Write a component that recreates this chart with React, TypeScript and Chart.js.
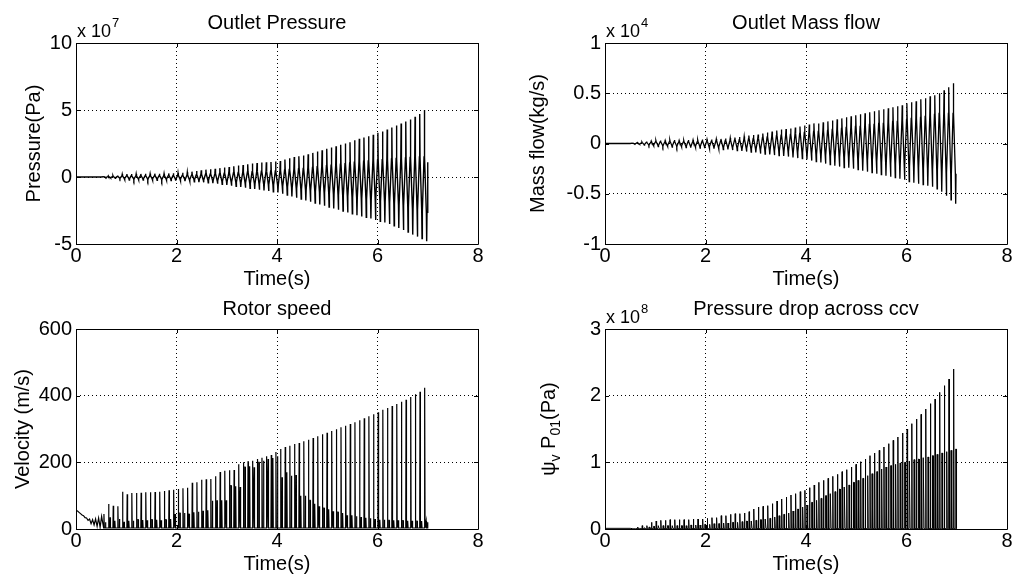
import React, { useEffect, useRef } from 'react';
import { Chart, registerables } from 'chart.js';

Chart.register(...registerables);

// ---------- data ----------
const TIME_TICKS = [0, 2, 4, 6, 8];
const CYCLE_START = 0.55; // s, first oscillation cycle
const CYCLE_PERIOD = 0.0925; // s

// Outlet Pressure (x 1e7 Pa)
const PRESSURE_YTICKS = [-5, 0, 5, 10];
const PRESSURE_LEAD_T = [0, 0.5];
const PRESSURE_LEAD_V = [0, 0];
const PRESSURE_UPPER = [
  0.05, 0.08, 0.1, 0.12, 0.2, 0.22, 0.22, 0.23, 0.23, 0.24,
  0.24, 0.25, 0.25, 0.25, 0.27, 0.28, 0.3, 0.32, 0.35, 0.4,
  0.45, 0.5, 0.55, 0.58, 0.62, 0.66, 0.7, 0.75, 0.8, 0.85,
  0.9, 0.95, 1.0, 1.05, 1.08, 1.1, 1.12, 1.15, 1.2, 1.3,
  1.4, 1.5, 1.55, 1.6, 1.7, 1.8, 1.9, 2.0, 2.1, 2.2,
  2.3, 2.4, 2.5, 2.6, 2.75, 2.85, 2.95, 3.05, 3.15, 3.3,
  3.4, 3.55, 3.7, 3.85, 4.0, 4.15, 4.3, 4.5, 4.7, 5.0,
];
const PRESSURE_INNER_HI = [
  0.02, 0.03, 0.04, 0.05, 0.08, 0.09, 0.09, 0.09, 0.09, 0.1,
  0.1, 0.1, 0.1, 0.1, 0.11, 0.11, 0.12, 0.13, 0.14, 0.16,
  0.18, 0.2, 0.22, 0.23, 0.25, 0.26, 0.28, 0.3, 0.32, 0.34,
  0.36, 0.38, 0.4, 0.42, 0.43, 0.44, 0.45, 0.46, 0.48, 0.52,
  0.56, 0.6, 0.62, 0.64, 0.68, 0.72, 0.76, 0.8, 0.84, 0.88,
  0.92, 0.96, 1.0, 1.04, 1.1, 1.14, 1.18, 1.2, 1.24, 1.28,
  1.3, 1.32, 1.35, 1.38, 1.4, 1.42, 1.45, 1.48, 1.5, 1.5,
];
const PRESSURE_LOWER = [
  -0.05, -0.08, -0.1, -0.12, -0.2, -0.22, -0.22, -0.22, -0.23, -0.23,
  -0.24, -0.24, -0.25, -0.25, -0.26, -0.27, -0.28, -0.3, -0.32, -0.35,
  -0.38, -0.4, -0.43, -0.46, -0.5, -0.55, -0.6, -0.65, -0.7, -0.75,
  -0.8, -0.85, -0.9, -0.95, -1.0, -1.05, -1.1, -1.15, -1.25, -1.35,
  -1.45, -1.55, -1.65, -1.75, -1.85, -1.95, -2.05, -2.15, -2.25, -2.35,
  -2.45, -2.55, -2.65, -2.75, -2.85, -2.95, -3.0, -3.1, -3.2, -3.3,
  -3.4, -3.5, -3.65, -3.8, -3.95, -4.1, -4.3, -4.45, -4.6, -4.8,
];
const PRESSURE_INNER_LO = [
  -0.03, -0.04, -0.05, -0.07, -0.11, -0.12, -0.12, -0.12, -0.13, -0.13,
  -0.13, -0.13, -0.14, -0.14, -0.14, -0.15, -0.15, -0.17, -0.18, -0.19,
  -0.21, -0.22, -0.24, -0.25, -0.28, -0.3, -0.33, -0.36, -0.39, -0.41,
  -0.44, -0.47, -0.5, -0.52, -0.55, -0.58, -0.6, -0.63, -0.69, -0.74,
  -0.8, -0.85, -0.91, -0.96, -1.02, -1.07, -1.13, -1.18, -1.24, -1.29,
  -1.35, -1.4, -1.46, -1.51, -1.57, -1.62, -1.65, -1.7, -1.76, -1.82,
  -1.87, -1.93, -2.0, -2.09, -2.17, -2.26, -2.37, -2.45, -2.53, -2.64,
];
const PRESSURE_END = [7.0, 1.1];

// Outlet Mass flow (x 1e4 kg/s)
const MASS_YTICKS = [-1, -0.5, 0, 0.5, 1];
const MASS_LEAD_T = [0, 0.5];
const MASS_LEAD_V = [0, 0];
const MASS_UPPER = [
  0.005, 0.01, 0.015, 0.02, 0.025, 0.03, 0.03, 0.03, 0.035, 0.035,
  0.03, 0.03, 0.035, 0.035, 0.035, 0.04, 0.04, 0.04, 0.045, 0.045,
  0.05, 0.055, 0.06, 0.065, 0.07, 0.08, 0.085, 0.09, 0.1, 0.11,
  0.12, 0.13, 0.14, 0.145, 0.15, 0.16, 0.17, 0.18, 0.19, 0.2,
  0.2, 0.21, 0.22, 0.23, 0.24, 0.25, 0.26, 0.27, 0.28, 0.29,
  0.3, 0.31, 0.32, 0.33, 0.34, 0.35, 0.36, 0.37, 0.38, 0.4,
  0.41, 0.42, 0.44, 0.45, 0.47, 0.48, 0.5, 0.53, 0.56, 0.6,
];
const MASS_INNER_HI = [
  0.003, 0.006, 0.009, 0.012, 0.015, 0.018, 0.018, 0.018, 0.021, 0.021,
  0.018, 0.018, 0.021, 0.021, 0.021, 0.024, 0.024, 0.024, 0.027, 0.027,
  0.03, 0.033, 0.036, 0.039, 0.042, 0.048, 0.051, 0.054, 0.06, 0.066,
  0.072, 0.078, 0.084, 0.087, 0.09, 0.096, 0.1, 0.11, 0.11, 0.12,
  0.12, 0.13, 0.13, 0.14, 0.14, 0.15, 0.16, 0.16, 0.17, 0.17,
  0.18, 0.19, 0.19, 0.2, 0.2, 0.21, 0.22, 0.22, 0.23, 0.24,
  0.25, 0.25, 0.26, 0.27, 0.28, 0.29, 0.3, 0.3, 0.3, 0.3,
];
const MASS_LOWER = [
  -0.005, -0.01, -0.015, -0.02, -0.025, -0.03, -0.03, -0.03, -0.035, -0.035,
  -0.035, -0.04, -0.04, -0.04, -0.045, -0.045, -0.05, -0.05, -0.055, -0.06,
  -0.06, -0.065, -0.07, -0.075, -0.08, -0.085, -0.09, -0.1, -0.105, -0.11,
  -0.115, -0.12, -0.125, -0.13, -0.14, -0.145, -0.15, -0.16, -0.17, -0.18,
  -0.19, -0.2, -0.21, -0.22, -0.23, -0.24, -0.24, -0.25, -0.26, -0.27,
  -0.28, -0.29, -0.3, -0.31, -0.32, -0.33, -0.34, -0.35, -0.36, -0.38,
  -0.39, -0.4, -0.41, -0.42, -0.43, -0.45, -0.48, -0.52, -0.56, -0.6,
];
const MASS_INNER_LO = [
  -0.003, -0.006, -0.009, -0.012, -0.015, -0.018, -0.018, -0.018, -0.021, -0.021,
  -0.021, -0.024, -0.024, -0.024, -0.027, -0.027, -0.03, -0.03, -0.033, -0.036,
  -0.036, -0.039, -0.042, -0.045, -0.048, -0.051, -0.054, -0.06, -0.063, -0.066,
  -0.069, -0.072, -0.075, -0.078, -0.084, -0.087, -0.09, -0.096, -0.1, -0.11,
  -0.11, -0.12, -0.13, -0.13, -0.14, -0.14, -0.14, -0.15, -0.16, -0.16,
  -0.17, -0.17, -0.18, -0.19, -0.19, -0.2, -0.2, -0.21, -0.22, -0.23,
  -0.23, -0.24, -0.25, -0.25, -0.26, -0.27, -0.28, -0.29, -0.3, -0.3,
];
const MASS_END = [7.0, -0.3];

// Rotor speed (m/s)
const ROTOR_YTICKS = [0, 200, 400, 600];
const ROTOR_LEAD_T = [0, 0.03, 0.06, 0.09, 0.12, 0.15, 0.18, 0.21, 0.24, 0.27, 0.3, 0.33, 0.36, 0.39, 0.42, 0.45, 0.48, 0.51];
const ROTOR_LEAD_V = [56, 54, 50, 46, 42, 40, 34, 33, 26, 30, 16, 28, 12, 30, 8, 33, 5, 38];
const ROTOR_BASE = 3;
const ROTOR_TALL = [
  45, 75, 70, 68, 112, 104, 108, 108, 109, 110,
  110, 111, 112, 114, 116, 118, 120, 122, 124, 139,
  140, 148, 149, 150, 158, 171, 175, 176, 177, 194,
  200, 203, 205, 210, 214, 218, 222, 231, 240, 246,
  250, 255, 258, 263, 268, 273, 278, 284, 289, 294,
  299, 305, 310, 315, 320, 326, 332, 338, 344, 350,
  358, 363, 369, 375, 382, 388, 396, 404, 412, 424,
];
const ROTOR_MID = [
  20, 35, 25, 30, 22, 25, 25, 28, 27, 26,
  28, 28, 26, 28, 30, 45, 48, 48, 46, 50,
  52, 55, 56, 85, 86, 86, 86, 130, 128, 126,
  186, 188, 185, 200, 205, 210, 213, 218, 155, 170,
  160, 162, 100, 100, 86, 76, 68, 63, 59, 53,
  51, 48, 41, 41, 38, 36, 34, 32, 30, 28,
  28, 26, 26, 26, 25, 25, 25, 24, 24, 24,
];
const ROTOR_END = [7.0, 20];

// Pressure drop across ccv (x 1e8 Pa)
const CCV_YTICKS = [0, 1, 2, 3];
const CCV_LEAD_T = [0, 0.5];
const CCV_LEAD_V = [0.01, 0.01];
const CCV_BASE = 0.005;
const CCV_TALL = [
  0.01, 0.03, 0.05, 0.05, 0.1, 0.12, 0.13, 0.13, 0.14, 0.14,
  0.14, 0.14, 0.14, 0.15, 0.15, 0.15, 0.16, 0.17, 0.17, 0.2,
  0.2, 0.22, 0.23, 0.23, 0.24, 0.26, 0.3, 0.33, 0.34, 0.35,
  0.38, 0.42, 0.45, 0.48, 0.51, 0.53, 0.56, 0.58, 0.62, 0.66,
  0.7, 0.73, 0.76, 0.79, 0.82, 0.86, 0.89, 0.93, 0.97, 1.01,
  1.05, 1.1, 1.14, 1.18, 1.23, 1.28, 1.33, 1.38, 1.44, 1.5,
  1.58, 1.65, 1.72, 1.8, 1.88, 1.95, 2.05, 2.15, 2.25, 2.4,
];
const CCV_MID = [
  0, 0.01, 0.02, 0.03, 0.04, 0.05, 0.05, 0.05, 0.05, 0.05,
  0.05, 0.05, 0.06, 0.06, 0.06, 0.07, 0.07, 0.08, 0.08, 0.09,
  0.09, 0.1, 0.1, 0.11, 0.12, 0.12, 0.13, 0.14, 0.15, 0.16,
  0.18, 0.2, 0.22, 0.24, 0.27, 0.3, 0.33, 0.36, 0.4, 0.43,
  0.46, 0.5, 0.53, 0.56, 0.6, 0.63, 0.66, 0.7, 0.73, 0.76,
  0.8, 0.83, 0.86, 0.9, 0.93, 0.95, 0.97, 0.99, 1.0, 1.02,
  1.04, 1.05, 1.07, 1.08, 1.1, 1.12, 1.14, 1.16, 1.18, 1.2,
];
const CCV_END = [7.0, 0.4];

// ---------- point builders ----------
type P = { x: number; y: number };
const cycleTime = (i: number) => CYCLE_START + i * CYCLE_PERIOD;

function lead(ts: number[], vs: number[]): P[] {
  return ts.map((t, i) => ({ x: t, y: vs[i] }));
}

// each cycle: narrow spike up to the upper peak out of the inner band,
// a crossing of the band, narrow spike down to the lower peak, crossing back
function oscillation(leadT: number[], leadV: number[], up: number[], hi: number[], lo: number[], loIn: number[], end: number[]): P[] {
  const pts = lead(leadT, leadV);
  const w = CYCLE_PERIOD * 0.07;
  up.forEach((u, i) => {
    const t = cycleTime(i);
    pts.push({ x: t - w, y: hi[i] });
    pts.push({ x: t, y: u });
    pts.push({ x: t + w, y: hi[i] });
    const tm = t + CYCLE_PERIOD * 0.5;
    pts.push({ x: tm - w, y: loIn[i] });
    pts.push({ x: tm, y: lo[i] });
    pts.push({ x: tm + w, y: loIn[i] });
  });
  pts.push({ x: end[0], y: end[1] });
  return pts;
}

function spikes(leadT: number[], leadV: number[], base: number, tall: number[], mid: number[], end: number[], midOffset: number, midWidth: number): P[] {
  const pts = lead(leadT, leadV);
  tall.forEach((h, i) => {
    const t = cycleTime(i);
    pts.push({ x: t, y: base });
    pts.push({ x: t + 0.006, y: h });
    pts.push({ x: t + 0.014, y: base });
    pts.push({ x: t + midOffset, y: base });
    pts.push({ x: t + midOffset + 0.006, y: mid[i] });
    pts.push({ x: t + midOffset + 0.006 + midWidth, y: mid[i] });
    pts.push({ x: t + midOffset + 0.012 + midWidth, y: base });
  });
  pts.push({ x: end[0] - 0.01, y: base });
  pts.push({ x: end[0], y: end[1] });
  return pts;
}

// ---------- drawing helpers ----------
const FONT = '"Liberation Sans", Arial, Helvetica, sans-serif';
const TICK_FONT_SIZE = 20;
const Y_W = 60;
const X_H = 30;

type Part = { text: string; sub?: boolean };

const matlabPlugin = {
  id: 'matlabAxes',
  afterDraw(chart: any, _args: any, opts: any) {
    const ctx = chart.ctx as CanvasRenderingContext2D;
    const { left, right, top, bottom } = chart.chartArea;
    const xs = chart.scales.x;
    const ys = chart.scales.y;
    ctx.save();
    ctx.strokeStyle = '#000';
    ctx.lineWidth = 1;
    ctx.setLineDash([]);
    // box
    ctx.beginPath();
    ctx.rect(Math.round(left) + 0.5, Math.round(top) + 0.5, Math.round(right - left), Math.round(bottom - top));
    ctx.stroke();
    // inward tick marks
    const tl = 4;
    ctx.beginPath();
    TIME_TICKS.forEach((v) => {
      const px = Math.round(xs.getPixelForValue(v)) + 0.5;
      ctx.moveTo(px, bottom);
      ctx.lineTo(px, bottom - tl);
      ctx.moveTo(px, top);
      ctx.lineTo(px, top + tl);
    });
    (opts.yTicks as number[]).forEach((v) => {
      const py = Math.round(ys.getPixelForValue(v)) + 0.5;
      ctx.moveTo(left, py);
      ctx.lineTo(left + tl, py);
      ctx.moveTo(right, py);
      ctx.lineTo(right - tl, py);
    });
    ctx.stroke();

    ctx.fillStyle = '#000';
    // title
    ctx.font = `20px ${FONT}`;
    ctx.textAlign = 'center';
    ctx.textBaseline = 'alphabetic';
    ctx.fillText(opts.title, (left + right) / 2, top - 14);
    // x label
    ctx.fillText('Time(s)', (left + right) / 2, bottom + 41);
    // exponent
    if (opts.exponent) {
      ctx.textAlign = 'left';
      ctx.font = `18px ${FONT}`;
      ctx.fillText('x 10', left + 1, top - 6);
      const w = ctx.measureText('x 10').width;
      ctx.font = `13px ${FONT}`;
      ctx.fillText(opts.exponent, left + 2 + w, top - 16);
    }
    // y label (rotated)
    const parts: Part[] = opts.yLabel;
    const size = 20;
    const subSize = 14;
    let total = 0;
    parts.forEach((p) => {
      ctx.font = `${p.sub ? subSize : size}px ${FONT}`;
      total += ctx.measureText(p.text).width;
    });
    ctx.translate(opts.yLabelX, (top + bottom) / 2);
    ctx.rotate(-Math.PI / 2);
    ctx.textAlign = 'left';
    let x = -total / 2;
    parts.forEach((p) => {
      ctx.font = `${p.sub ? subSize : size}px ${FONT}`;
      ctx.fillText(p.text, x, size * 0.36 + (p.sub ? 5 : 0));
      x += ctx.measureText(p.text).width;
    });
    ctx.restore();
  },
};

type PanelCfg = {
  area: { l: number; t: number; r: number; b: number };
  points: P[];
  yMin: number;
  yMax: number;
  yTicks: number[];
  title: string;
  exponent?: string;
  yLabel: Part[];
  yLabelX: number;
  lineWidth: number;
};

function buildConfig(c: PanelCfg): any {
  const W = 1022;
  const H = 581;
  return {
    type: 'line',
    data: {
      datasets: [
        {
          data: c.points,
          borderColor: '#000',
          borderWidth: c.lineWidth,
          pointRadius: 0,
          tension: 0,
          fill: false,
        },
      ],
    },
    plugins: [matlabPlugin],
    options: {
      animation: false,
      responsive: false,
      devicePixelRatio: 1,
      events: [],
      parsing: false,
      layout: {
        padding: { left: c.area.l - Y_W, top: c.area.t, right: W - c.area.r, bottom: H - c.area.b - X_H },
      },
      plugins: {
        legend: { display: false },
        tooltip: { enabled: false },
        title: { display: false },
        matlabAxes: {
          title: c.title,
          exponent: c.exponent,
          yLabel: c.yLabel,
          yLabelX: c.yLabelX,
          yTicks: c.yTicks,
        },
      },
      scales: {
        x: {
          type: 'linear',
          min: 0,
          max: 8,
          afterFit: (s: any) => {
            s.height = X_H;
          },
          afterBuildTicks: (s: any) => {
            s.ticks = TIME_TICKS.map((v) => ({ value: v }));
          },
          ticks: {
            color: '#000',
            font: { family: FONT, size: TICK_FONT_SIZE },
            padding: 0,
            maxRotation: 0,
            autoSkip: false,
            callback: (v: number) => String(v),
          },
          grid: { color: '#000', lineWidth: 1, drawTicks: false },
          border: { display: false, dash: [1, 3] },
        },
        y: {
          type: 'linear',
          min: c.yMin,
          max: c.yMax,
          afterFit: (s: any) => {
            s.width = Y_W;
          },
          afterBuildTicks: (s: any) => {
            s.ticks = c.yTicks.map((v) => ({ value: v }));
          },
          ticks: {
            color: '#000',
            font: { family: FONT, size: TICK_FONT_SIZE },
            padding: 4,
            autoSkip: false,
            callback: (v: number) => String(v),
          },
          grid: { color: '#000', lineWidth: 1, drawTicks: false },
          border: { display: false, dash: [1, 3] },
        },
      },
    },
  };
}

const PANELS: PanelCfg[] = [
  {
    area: { l: 76, t: 43, r: 478, b: 244 },
    points: oscillation(PRESSURE_LEAD_T, PRESSURE_LEAD_V, PRESSURE_UPPER, PRESSURE_INNER_HI, PRESSURE_LOWER, PRESSURE_INNER_LO, PRESSURE_END),
    yMin: -5,
    yMax: 10,
    yTicks: PRESSURE_YTICKS,
    title: 'Outlet Pressure',
    exponent: '7',
    yLabel: [{ text: 'Pressure(Pa)' }],
    yLabelX: 33,
    lineWidth: 1.4,
  },
  {
    area: { l: 605, t: 43, r: 1007, b: 244 },
    points: oscillation(MASS_LEAD_T, MASS_LEAD_V, MASS_UPPER, MASS_INNER_HI, MASS_LOWER, MASS_INNER_LO, MASS_END),
    yMin: -1,
    yMax: 1,
    yTicks: MASS_YTICKS,
    title: 'Outlet Mass flow',
    exponent: '4',
    yLabel: [{ text: 'Mass flow(kg/s)' }],
    yLabelX: 537,
    lineWidth: 1.3,
  },
  {
    area: { l: 76, t: 329, r: 478, b: 529 },
    points: spikes(ROTOR_LEAD_T, ROTOR_LEAD_V, ROTOR_BASE, ROTOR_TALL, ROTOR_MID, ROTOR_END, 0.03, 0.004),
    yMin: 0,
    yMax: 600,
    yTicks: ROTOR_YTICKS,
    title: 'Rotor speed',
    yLabel: [{ text: 'Velocity (m/s)' }],
    yLabelX: 22,
    lineWidth: 1.2,
  },
  {
    area: { l: 605, t: 329, r: 1007, b: 529 },
    points: spikes(CCV_LEAD_T, CCV_LEAD_V, CCV_BASE, CCV_TALL, CCV_MID, CCV_END, 0.042, 0.01),
    yMin: 0,
    yMax: 3,
    yTicks: CCV_YTICKS,
    title: 'Pressure drop across ccv',
    exponent: '8',
    yLabel: [
      { text: 'ψ' },
      { text: 'v', sub: true },
      { text: ' P' },
      { text: '01', sub: true },
      { text: '(Pa)' },
    ],
    yLabelX: 548,
    lineWidth: 1,
  },
];

function Panel({ cfg }: { cfg: PanelCfg }) {
  const ref = useRef<HTMLCanvasElement | null>(null);
  useEffect(() => {
    if (!ref.current) return;
    const chart = new Chart(ref.current, buildConfig(cfg));
    return () => chart.destroy();
  }, [cfg]);
  return (
    <canvas
      ref={ref}
      width={1022}
      height={581}
      style={{ position: 'absolute', left: 0, top: 0, width: 1022, height: 581 }}
    />
  );
}

export default function App() {
  return (
    <div style={{ position: 'fixed', left: 0, top: 0, width: 1022, height: 581, background: '#fff', overflow: 'hidden' }}>
      {PANELS.map((p, i) => (
        <Panel key={i} cfg={p} />
      ))}
    </div>
  );
}
